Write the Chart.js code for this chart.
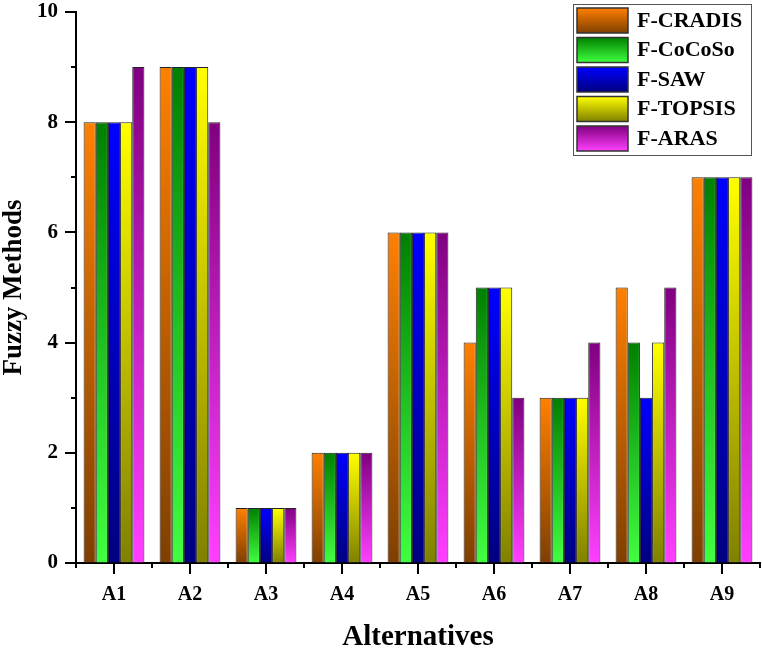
<!DOCTYPE html>
<html><head><meta charset="utf-8">
<script src="https://cdn.jsdelivr.net/npm/chart.js@4"></script>
<style>html,body{margin:0;padding:0;background:#fff}#wrap{width:762px;height:648px}</style>
</head><body><div id="wrap"><canvas id="c" width="762" height="648"></canvas></div>
<script>
const categories = ['A1','A2','A3','A4','A5','A6','A7','A8','A9'];
const seriesNames = ['F-CRADIS','F-CoCoSo','F-SAW','F-TOPSIS','F-ARAS'];
const cradis = [8,9,1,2,6,4,3,5,7];
const cocoso = [8,9,1,2,6,5,3,4,7];
const saw    = [8,9,1,2,6,5,3,3,7];
const topsis = [8,9,1,2,6,5,3,4,7];
const aras   = [9,8,1,2,6,3,4,5,7];
const yTicks = [0,2,4,6,8,10];
const seriesValues = [cradis, cocoso, saw, topsis, aras];

const gradTop = ['#FF8000','#008000','#0000FF','#FFFF00','#800080'];
const gradBot = ['#7F3F00','#40FF40','#000080','#808000','#FF40FF'];
const FONT = '"Liberation Serif", "Times New Roman", serif';

function barGradient(ctx){
  const chart = ctx.chart;
  const ys = chart.scales.y;
  if (!ys || ctx.raw === undefined) return gradTop[ctx.datasetIndex];
  const top = ys.getPixelForValue(ctx.raw);
  const base = ys.getPixelForValue(0);
  if (!isFinite(top) || !isFinite(base) || top === base) return gradTop[ctx.datasetIndex];
  const g = chart.ctx.createLinearGradient(0, top, 0, base);
  g.addColorStop(0, gradTop[ctx.datasetIndex]);
  g.addColorStop(1, gradBot[ctx.datasetIndex]);
  return g;
}

const tickPlugin = {
  id: 'ticksMinor',
  afterDraw(chart){
    const c = chart.ctx, xs = chart.scales.x, ys = chart.scales.y;
    const area = chart.chartArea;
    c.save();
    c.strokeStyle = '#000'; c.lineWidth = 2;
    c.beginPath();
    for (let v = 0; v <= 10; v++){
      const y = Math.round(ys.getPixelForValue(v));
      const len = (v % 2 === 0) ? 11 : 5;
      c.moveTo(area.left, y); c.lineTo(area.left - len, y);
    }
    for (let i = 0; i < categories.length; i++){
      const x = Math.round(xs.getPixelForValue(i));
      c.moveTo(x, area.bottom); c.lineTo(x, area.bottom + 11);
    }
    for (let i = 0; i <= categories.length; i++){
      const x = Math.round(xs.getPixelForValue(i - 0.5));
      c.moveTo(x, area.bottom); c.lineTo(x, area.bottom + 5);
    }
    c.stroke();
    c.restore();
  }
};

const legendPlugin = {
  id: 'boxLegend',
  afterDraw(chart){
    const c = chart.ctx;
    c.save();
    c.strokeStyle = '#555'; c.lineWidth = 1;
    c.fillStyle = '#fff';
    c.fillRect(573.5, 4.5, 178, 151);
    c.strokeRect(573.5, 4.5, 178, 151);
    for (let i = 0; i < seriesNames.length; i++){
      const y0 = 8 + i * 29.5;
      const g = c.createLinearGradient(0, y0, 0, y0 + 25);
      g.addColorStop(0, gradTop[i]); g.addColorStop(1, gradBot[i]);
      c.fillStyle = g;
      c.fillRect(577, y0, 51, 25);
      c.strokeStyle = '#333'; c.lineWidth = 1.5;
      c.strokeRect(577, y0, 51, 25);
      c.fillStyle = '#000';
      c.font = 'bold 22px ' + FONT;
      c.textBaseline = 'middle';
      c.textAlign = 'left';
      c.fillText(seriesNames[i], 637, y0 + 13);
    }
    c.restore();
  }
};

new Chart(document.getElementById('c'), {
  type: 'bar',
  data: {
    labels: categories,
    datasets: seriesNames.map((n, i) => ({
      label: n,
      data: seriesValues[i],
      backgroundColor: barGradient,
      borderColor: '#222',
      borderWidth: 1,
      borderSkipped: 'start',
      categoryPercentage: 0.8,
      barPercentage: 1.0
    }))
  },
  options: {
    responsive: false,
    animation: false,
    layout: { padding: { top: 12, right: 2, left: 0, bottom: 0 } },
    plugins: { legend: { display: false }, tooltip: { enabled: false } },
    scales: {
      x: {
        grid: { display: true, drawOnChartArea: false, drawTicks: false },
        border: { display: true, color: '#000', width: 2 },
        ticks: { color: '#000', padding: 20, font: { family: FONT, size: 20, weight: 'bold' } },
        title: { display: true, text: 'Alternatives', color: '#000', padding: { top: 0, bottom: -4 }, font: { family: FONT, size: 29, weight: 'bold', lineHeight: 1 } },
        afterFit(s){ s.height = 85; s.paddingLeft = 0; s.paddingRight = 0; }
      },
      y: {
        min: 0, max: 10,
        grid: { display: true, drawOnChartArea: false, drawTicks: false },
        border: { display: true, color: '#000', width: 2 },
        ticks: { stepSize: 1, color: '#000', padding: 18, font: { family: FONT, size: 21, weight: 'bold' },
                 callback: (v) => yTicks.includes(v) ? String(v) : '' },
        title: { display: true, text: 'Fuzzy Methods', color: '#000', padding: { top: 1, bottom: 0 }, font: { family: FONT, size: 27, weight: 'bold', lineHeight: 1 } },
        afterFit(s){ s.width = 76; s.paddingTop = 0; s.paddingBottom = 0; }
      }
    }
  },
  plugins: [tickPlugin, legendPlugin]
});
</script></body></html>
